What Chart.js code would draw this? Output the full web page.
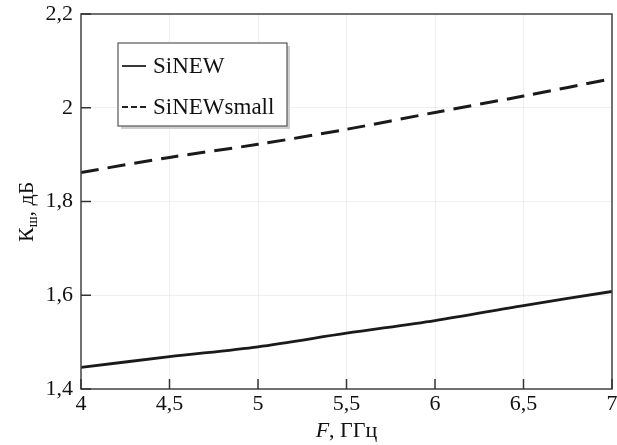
<!DOCTYPE html>
<html>
<head>
<meta charset="utf-8">
<script src="https://cdn.jsdelivr.net/npm/chart.js@4/dist/chart.umd.min.js"></script>
<style>
  html, body { margin: 0; padding: 0; background: #fff; }
  #wrap { width: 617px; height: 445px; position: relative; }
</style>
</head>
<body>
<div id="wrap"><canvas id="myChart"></canvas></div>
<script>
// frequency, GHz
var freq = [4, 4.5, 5, 5.5, 6, 6.5, 7];
// noise figure values
var siNew = [1.446, 1.469, 1.490, 1.519, 1.546, 1.578, 1.608];
var siNewSmall = [1.862, 1.894, 1.922, 1.954, 1.990, 2.025, 2.062];
// tick labels
var xTicks = [4, 4.5, 5, 5.5, 6, 6.5, 7];
var yTicks = [1.4, 1.6, 1.8, 2, 2.2];
var seriesNames = ['SiNEW', 'SiNEWsmall'];

var serif = "'Liberation Serif', 'Times New Roman', serif";

function toPoints(ys) {
  var pts = [];
  for (var i = 0; i < freq.length; i++) {
    pts.push({ x: freq[i], y: ys[i] });
  }
  return pts;
}

function comma(v) {
  return String(v).replace('.', ',');
}

// draws frame, inward ticks, axis titles and the boxed legend
var decorations = {
  id: 'decorations',
  afterDraw: function(chart) {
    var ctx = chart.ctx;
    var a = chart.chartArea;
    var xs = chart.scales.x;
    var ys = chart.scales.y;
    ctx.save();

    // frame
    ctx.strokeStyle = '#444';
    ctx.lineWidth = 1.5;
    ctx.strokeRect(a.left, a.top, a.right - a.left, a.bottom - a.top);

    // inward ticks
    ctx.lineWidth = 1.5;
    ctx.strokeStyle = '#333';
    xTicks.forEach(function(v) {
      var px = xs.getPixelForValue(v);
      ctx.beginPath();
      ctx.moveTo(px, a.bottom);
      ctx.lineTo(px, a.bottom - 10);
      ctx.stroke();
    });
    yTicks.forEach(function(v) {
      var py = ys.getPixelForValue(v);
      ctx.beginPath();
      ctx.moveTo(a.left, py);
      ctx.lineTo(a.left + 10, py);
      ctx.stroke();
    });

    ctx.fillStyle = '#111';
    ctx.textBaseline = 'alphabetic';

    // x title: "F, ГГц" with italic F
    var big = '22px ' + serif;
    ctx.font = 'italic ' + big;
    var wF = ctx.measureText('F').width;
    ctx.font = big;
    var wRest = ctx.measureText(', ГГц').width;
    var cx = (a.left + a.right) / 2;
    var x0 = cx - (wF + wRest) / 2;
    ctx.font = 'italic ' + big;
    ctx.textAlign = 'left';
    ctx.fillText('F', x0, 437);
    ctx.font = big;
    ctx.fillText(', ГГц', x0 + wF, 437);

    // y title: "Кш, дБ" with subscript ш, rotated
    ctx.save();
    ctx.translate(33, 242);
    ctx.rotate(-Math.PI / 2);
    ctx.font = big;
    ctx.fillText('К', 0, 0);
    var wK = ctx.measureText('К').width;
    ctx.font = '14px ' + serif;
    ctx.fillText('ш', wK, 4);
    var wS = ctx.measureText('ш').width;
    ctx.font = big;
    ctx.fillText(', дБ', wK + wS, 0);
    ctx.restore();

    // legend box
    var lx = 118, ly = 43, lw = 169, lh = 83;
    ctx.fillStyle = '#cfcfcf';
    ctx.fillRect(lx + 3, ly + lh, lw, 3);
    ctx.fillRect(lx + lw, ly + 3, 3, lh);
    ctx.fillStyle = '#fff';
    ctx.fillRect(lx, ly, lw, lh);
    ctx.strokeStyle = '#555';
    ctx.lineWidth = 1.2;
    ctx.strokeRect(lx, ly, lw, lh);

    var rows = [66, 107];
    var dashes = [[], [6, 3]];
    for (var i = 0; i < seriesNames.length; i++) {
      ctx.strokeStyle = '#222';
      ctx.lineWidth = 1.8;
      ctx.setLineDash(dashes[i]);
      ctx.beginPath();
      ctx.moveTo(122, rows[i]);
      ctx.lineTo(146, rows[i]);
      ctx.stroke();
      ctx.setLineDash([]);
      ctx.fillStyle = '#111';
      ctx.font = '23px ' + serif;
      ctx.textBaseline = 'middle';
      ctx.fillText(seriesNames[i], 153, rows[i] + 1);
    }
    ctx.restore();
  }
};

var ctx = document.getElementById('myChart').getContext('2d');
var myChart = new Chart(ctx, {
  type: 'line',
  data: {
    datasets: [{
      label: seriesNames[0],
      data: toPoints(siNew),
      borderColor: '#1a1a1a',
      borderWidth: 2.8,
      pointRadius: 0,
      tension: 0.3,
      fill: false
    },
    {
      label: seriesNames[1],
      data: toPoints(siNewSmall),
      borderColor: '#1a1a1a',
      borderWidth: 3,
      borderDash: [18, 9],
      pointRadius: 0,
      tension: 0.3,
      fill: false
    }]
  },
  options: {
    responsive: true,
    maintainAspectRatio: false,
    animation: false,
    layout: { padding: { top: 14, right: 5, left: 0, bottom: 0 } },
    plugins: {
      legend: { display: false },
      tooltip: { enabled: false }
    },
    scales: {
      x: {
        type: 'linear',
        min: 4,
        max: 7,
        afterBuildTicks: function(scale) {
          scale.ticks = xTicks.map(function(v) { return { value: v }; });
        },
        afterFit: function(scale) {
          scale.height = 56;
          scale.paddingLeft = 0;
          scale.paddingRight = 0;
        },
        ticks: {
          color: '#111',
          padding: 2,
          font: { family: serif, size: 22 },
          callback: function(v) { return comma(v); }
        },
        grid: {
          color: 'rgba(0,0,0,0.06)',
          drawTicks: false,
          lineWidth: 1
        },
        border: { display: false }
      },
      y: {
        min: 1.4,
        max: 2.2,
        afterBuildTicks: function(scale) {
          scale.ticks = yTicks.map(function(v) { return { value: v }; });
        },
        afterFit: function(scale) {
          scale.width = 81;
          scale.paddingTop = 0;
          scale.paddingBottom = 0;
        },
        ticks: {
          color: '#111',
          padding: 8,
          font: { family: serif, size: 22 },
          callback: function(v) { return comma(v); }
        },
        grid: {
          color: 'rgba(0,0,0,0.06)',
          drawTicks: false,
          lineWidth: 1
        },
        border: { display: false }
      }
    }
  },
  plugins: [decorations]
});
</script>
</body>
</html>
